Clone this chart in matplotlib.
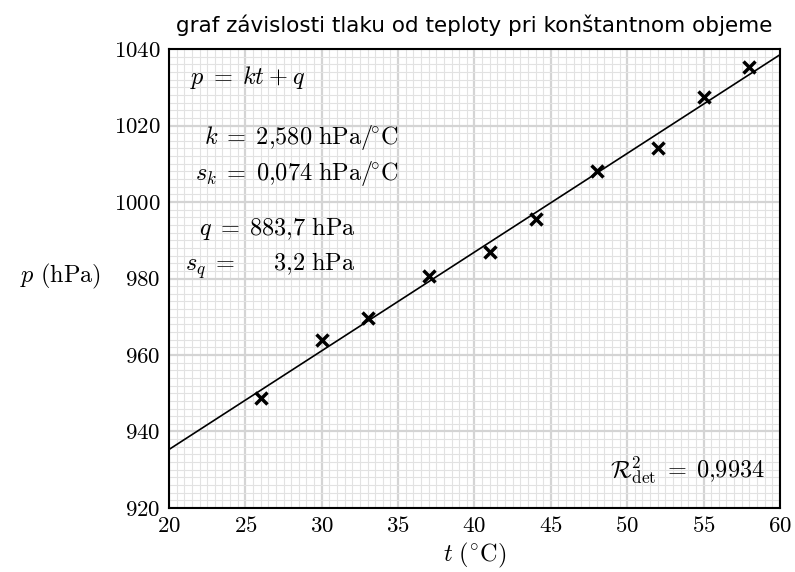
import numpy as np
import matplotlib
matplotlib.use("Agg")
import matplotlib.pyplot as plt
from matplotlib.ticker import MultipleLocator

plt.rcParams['font.family'] = 'serif'
plt.rcParams['font.serif'] = ['cmr10']
plt.rcParams['mathtext.fontset'] = 'cm'
plt.rcParams['axes.formatter.use_mathtext'] = True

# measured data
t = [26, 30, 33, 37, 41, 44, 48, 52, 55, 58]
p = [948.8, 964.0, 969.6, 980.7, 987.0, 995.5, 1008.2, 1014.0, 1027.5, 1035.4]

# fit results as printed in the chart
k = 2.580
q = 883.7

xticks = [20, 25, 30, 35, 40, 45, 50, 55, 60]
yticks = [920, 940, 960, 980, 1000, 1020, 1040]

fig = plt.figure(figsize=(7.95, 5.72), dpi=100)
ax = fig.add_axes([0.2126, 0.1119, 0.7684, 0.8024])

ax.set_xlim(20, 60)
ax.set_ylim(920, 1040)
ax.set_xticks(xticks)
ax.set_yticks(yticks)
ax.xaxis.set_minor_locator(MultipleLocator(0.5))
ax.yaxis.set_minor_locator(MultipleLocator(2))
ax.grid(which='minor', color='#e2e2e2', lw=0.8)
ax.grid(which='major', color='#d4d4d4', lw=1.6)
ax.set_axisbelow(True)
ax.tick_params(which='both', length=0, labelsize=16.5, pad=6)
for s in ax.spines.values():
    s.set_linewidth(1.5)

tl = np.array([20, 60])
ax.plot(tl, k * tl + q, color='black', lw=1.2, zorder=3)
ax.plot(t, p, 'x', color='black', ms=8, mew=2.5, zorder=4)

fs = 17.5
EQ = r'\;=\;'
deg = r'\mathrm{hPa}/\!^{\circ}\mathrm{C}'
ax.text(0.035, 0.937, r'$p' + EQ + r'kt\:+\:q$', transform=ax.transAxes, fontsize=fs, ha='left', va='center')
ax.text(0.375, 0.808, r'$k' + EQ + r'2{,}580\ ' + deg + '$', transform=ax.transAxes, fontsize=fs, ha='right', va='center')
ax.text(0.375, 0.728, r'$s_k' + EQ + r'0{,}074\ ' + deg + '$', transform=ax.transAxes, fontsize=fs, ha='right', va='center')
ax.text(0.305, 0.61, r'$q' + EQ + r'883{,}7\ \mathrm{hPa}$', transform=ax.transAxes, fontsize=fs, ha='right', va='center')
ax.text(0.305, 0.527, r'$s_q' + EQ + r'\quad\ 3{,}2\ \mathrm{hPa}$', transform=ax.transAxes, fontsize=fs, ha='right', va='center')
ax.text(0.976, 0.083, r'$\mathcal{R}^2_{\mathrm{det}}' + EQ + r'0{,}9934$', transform=ax.transAxes, fontsize=fs, ha='right', va='center')

ax.set_xlabel(r'$t\ (^{\circ}\mathrm{C})$', fontsize=fs, labelpad=3)
ax.set_ylabel(r'$p\ (\mathrm{hPa})$', fontsize=fs, rotation=0, ha='right', va='center')
ax.yaxis.set_label_coords(-0.112, 0.505)

fig.text(0.596, 0.956, 'graf závislosti tlaku od teploty pri konštantnom objeme',
         family='DejaVu Sans', fontsize=15.5, ha='center', va='center')

fig.savefig('out.png', dpi=100)
